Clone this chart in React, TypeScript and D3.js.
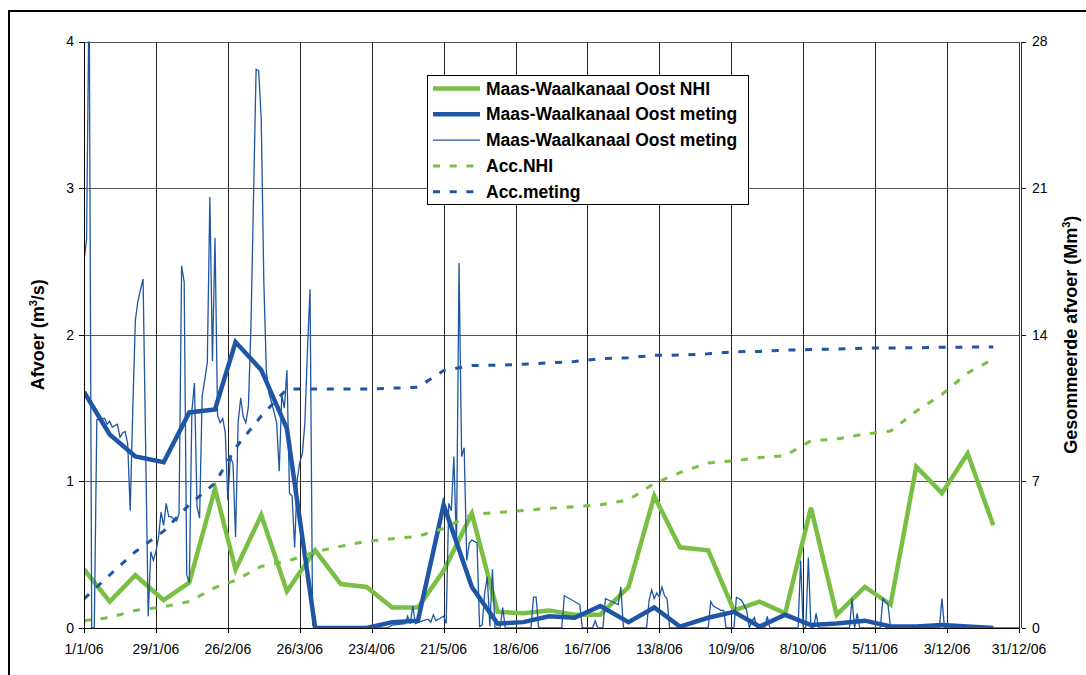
import React from "react";
import * as d3 from "d3";

// ---- data ----
const decadeDates = [
  "2006-01-01","2006-01-11","2006-01-21","2006-02-01","2006-02-11","2006-02-21",
  "2006-03-01","2006-03-11","2006-03-21","2006-04-01","2006-04-11","2006-04-21",
  "2006-05-01","2006-05-11","2006-05-21","2006-06-01","2006-06-11","2006-06-21",
  "2006-07-01","2006-07-11","2006-07-21","2006-08-01","2006-08-11","2006-08-21",
  "2006-09-01","2006-09-11","2006-09-21","2006-10-01","2006-10-11","2006-10-21",
  "2006-11-01","2006-11-11","2006-11-21","2006-12-01","2006-12-11","2006-12-21",
];
const nhiValues = [
  0.40, 0.18, 0.36, 0.19, 0.31, 0.95, 0.40, 0.77, 0.25, 0.53, 0.30, 0.28,
  0.14, 0.14, 0.39, 0.78, 0.11, 0.10, 0.12, 0.09, 0.09, 0.28, 0.90, 0.55,
  0.53, 0.12, 0.18, 0.10, 0.82, 0.09, 0.28, 0.16, 1.10, 0.92, 1.19, 0.70,
];
const metingDecade = [
  1.61, 1.32, 1.17, 1.13, 1.47, 1.49, 1.95, 1.76, 1.36, 0.00, 0.00, 0.00,
  0.04, 0.05, 0.84, 0.28, 0.03, 0.04, 0.08, 0.07, 0.15, 0.04, 0.14, 0.01,
  0.07, 0.11, 0.01, 0.09, 0.02, 0.03, 0.05, 0.01, 0.01, 0.02, 0.01, 0.00,
];
const accNhi = [
  0.35, 0.50, 0.84, 1.01, 1.27, 1.93, 2.28, 2.94, 3.18, 3.64, 3.90, 4.14,
  4.26, 4.38, 4.75, 5.43, 5.52, 5.61, 5.71, 5.79, 5.88, 6.12, 6.90, 7.42,
  7.88, 7.98, 8.14, 8.23, 8.94, 9.02, 9.26, 9.40, 10.35, 11.15, 12.18, 12.84,
];
const accMeting = [
  1.39, 2.53, 3.64, 4.62, 5.89, 6.92, 8.60, 10.12, 11.41, 11.41, 11.41, 11.41,
  11.45, 11.49, 12.29, 12.53, 12.55, 12.59, 12.66, 12.72, 12.86, 12.90, 13.02, 13.03,
  13.09, 13.19, 13.20, 13.27, 13.29, 13.32, 13.36, 13.37, 13.38, 13.40, 13.41, 13.41,
];
// daily measurement: day offset from 1 Jan 2006, value (m3/s)
const thinDays = [
  0, 1, 2, 3, 4, 5, 8, 9, 10, 11, 13, 14, 15, 16, 17, 18, 19, 20, 21, 22, 23, 25, 26, 27, 28, 29,
  30, 31, 32, 33, 34, 35, 36, 37, 38, 39, 40, 41, 42, 43, 44, 45, 46, 47, 48, 49, 50, 51, 52, 53,
  54, 55, 56, 57, 58, 59, 60, 61, 62, 63, 64, 65, 67, 68, 69, 70, 71, 72, 73, 74, 75, 76, 77, 78,
  79, 80, 81, 82, 83, 84, 85, 86, 87, 88, 89, 90, 118, 120, 125, 126, 127, 128, 129, 132, 134,
  135, 136, 137, 139, 140, 141, 142, 143, 144, 145, 146, 147, 148, 149, 150, 151, 153, 154, 155,
  156, 157, 158, 159, 160, 162, 163, 164, 174, 175, 176, 177, 186, 187, 193, 194, 198, 199, 200,
  202, 203, 208, 209, 210, 219, 220, 221, 222, 223, 224, 225, 226, 227, 228, 243, 244, 245, 248,
  249, 250, 253, 254, 256, 258, 259, 260, 261, 262, 265, 266, 267, 278, 279, 280, 281, 282, 283,
  284, 285, 286, 298, 299, 300, 301, 302, 310, 311, 312, 313, 314, 333, 334, 335, 364,
];
const thinValues = [
  2.50, 2.65, 4.40, 0.00, 0.00, 1.42, 1.43, 1.39, 1.41, 1.37, 1.39, 1.30, 1.33, 1.34, 1.26, 0.80, 1.50, 2.10, 2.23, 2.31, 2.38, 0.08, 0.52, 0.46, 0.52, 0.62,
  0.79, 0.70, 0.85, 0.76, 0.76, 0.74, 0.73, 0.78, 2.47, 2.36, 0.36, 0.31, 1.48, 1.67, 0.83, 0.75, 1.58, 1.69, 1.81, 2.94, 1.82, 2.66, 1.45, 1.40,
  1.43, 1.33, 0.87, 1.17, 1.12, 0.62, 1.40, 1.57, 1.44, 1.40, 1.51, 2.06, 3.81, 3.80, 3.47, 2.37, 1.75, 1.60, 1.54, 1.47, 1.40, 1.07, 1.59, 1.50,
  1.76, 0.92, 0.90, 0.55, 1.01, 1.13, 1.19, 1.40, 1.90, 2.31, 0.02, 0.00, 0.00, 0.02, 0.03, 0.08, 0.03, 0.15, 0.03, 0.05, 0.06,
  0.04, 0.09, 0.05, 0.07, 0.08, 0.03, 0.85, 0.80, 1.17, 0.55, 2.49, 1.17, 1.23, 0.46, 0.58, 0.60, 0.58, 0.01, 0.02,
  0.24, 0.35, 0.01, 0.40, 0.00, 0.00, 0.14, 0.00, 0.00, 0.21, 0.21, 0.00, 0.00, 0.22, 0.16, 0.00, 0.00, 0.05, 0.00,
  0.00, 0.20, 0.16, 0.28, 0.00, 0.00, 0.19, 0.26, 0.20, 0.24, 0.21, 0.28, 0.22, 0.20, 0.00, 0.00, 0.18, 0.15, 0.12,
  0.12, 0.00, 0.00, 0.21, 0.19, 0.12, 0.00, 0.05, 0.07, 0.00, 0.00, 0.08, 0.00, 0.00, 0.46, 0.00, 0.00, 0.48, 0.00,
  0.00, 0.10, 0.00, 0.00, 0.20, 0.00, 0.10, 0.00, 0.00, 0.20, 0.18, 0.16, 0.00, 0.00, 0.20, 0.00, 0.00,
];
const xTickDates = [
  "2006-01-01","2006-01-29","2006-02-26","2006-03-26","2006-04-23","2006-05-21","2006-06-18",
  "2006-07-16","2006-08-13","2006-09-10","2006-10-08","2006-11-05","2006-12-03","2006-12-31",
];
const leftTicks = [0, 1, 2, 3, 4];
const rightTicks = [0, 7, 14, 21, 28];
const legendLabels = [
  "Maas-Waalkanaal Oost NHI",
  "Maas-Waalkanaal Oost meting",
  "Maas-Waalkanaal Oost meting",
  "Acc.NHI",
  "Acc.meting",
];

// ---- styles ----
const GREEN = "#78BF43";
const BLUE = "#1F55A5";
const FONT = "'Liberation Sans', Arial, Helvetica, sans-serif";

const parse = (s: string) => new Date(s + "T00:00:00Z");
const start = parse("2006-01-01");
const fmt = (d: Date) => `${d.getUTCDate()}/${d.getUTCMonth() + 1}/${String(d.getUTCFullYear()).slice(2)}`;
const px = (v: number) => Math.round(v) + 0.5;

export default function App() {
  const W = 1086, H = 675;
  const L = 84, R = 1019, T = 41.5, B = 628;
  const x = d3.scaleUtc().domain([parse("2006-01-01"), parse("2006-12-31")]).range([L, R]);
  const yL = d3.scaleLinear().domain([0, 4]).range([B, T]);
  const yR = d3.scaleLinear().domain([0, 28]).range([B, T]);

  const dec = decadeDates.map(parse);
  const lineL = d3.line<[Date, number]>().x(d => x(d[0])).y(d => yL(d[1]));
  const lineR = d3.line<[Date, number]>().x(d => x(d[0])).y(d => yR(d[1]));

  const nhiPath = lineL(dec.map((d, i) => [d, nhiValues[i]]))!;
  const metPath = lineL(dec.map((d, i) => [d, metingDecade[i]]))!;
  const accNPath = lineR(dec.map((d, i) => [d, accNhi[i]]))!;
  const accMPath = lineR(dec.map((d, i) => [d, accMeting[i]]))!;
  const thinPath = lineL(thinDays.map((dd, i) => [d3.utcDay.offset(start, dd), thinValues[i]]))!;

  const ticks = xTickDates.map(parse);

  const legendX = 427.5, legendY = 75.5, legendW = 321, legendH = 129;
  const rowY = (i: number) => 88.5 + i * 25.8;
  const legendStyles = [
    { stroke: GREEN, w: 4.5, dash: undefined },
    { stroke: BLUE, w: 4.5, dash: undefined },
    { stroke: BLUE, w: 1.3, dash: undefined },
    { stroke: GREEN, w: 3, dash: "7 9.7" },
    { stroke: BLUE, w: 3, dash: "7 9.7" },
  ];

  return (
    <svg width={W} height={H} style={{ position: "absolute", left: 0, top: 0, background: "#fff" }} fontFamily={FONT}>
      <defs>
        <clipPath id="plotclip">
          <rect x={L} y={T} width={R - L} height={B - T} />
        </clipPath>
      </defs>
      {/* outer frame */}
      <rect x={9} y={11} width={1100} height={700} fill="none" stroke="#000" strokeWidth={2} />

      <g shapeRendering="crispEdges">
        {/* horizontal gridlines */}
        {leftTicks.filter(v => v > 0).map(v => (
          <line key={"h" + v} x1={L} x2={R} y1={px(yL(v))} y2={px(yL(v))} stroke="#555" strokeWidth={1} />
        ))}
        {/* vertical gridlines */}
        {ticks.slice(1, -1).map((d, i) => (
          <line key={"v" + i} x1={px(x(d))} x2={px(x(d))} y1={T} y2={B} stroke="#222" strokeWidth={1} />
        ))}
      </g>

      {/* series */}
      <g clipPath="url(#plotclip)" fill="none">
        <path d={nhiPath} stroke={GREEN} strokeWidth={4.5} />
        <path d={thinPath} stroke={BLUE} strokeWidth={1.3} />
        <path d={metPath} stroke={BLUE} strokeWidth={4.5} />
        <path d={accNPath} stroke={GREEN} strokeWidth={3} strokeDasharray="7 9.7" />
        <path d={accMPath} stroke={BLUE} strokeWidth={3} strokeDasharray="7 9.7" />
      </g>

      {/* axes */}
      <g shapeRendering="crispEdges">
        <line x1={L + 0.5} x2={L + 0.5} y1={T} y2={B} stroke="#000" strokeWidth={1} />
        <line x1={L} x2={R} y1={B + 0.5} y2={B + 0.5} stroke="#000" strokeWidth={1} />
        <line x1={R + 0.5} x2={R + 0.5} y1={T} y2={B} stroke="#333" strokeWidth={1} />
        <line x1={R + 2.5} x2={R + 2.5} y1={T} y2={B} stroke="#333" strokeWidth={1} />
        {leftTicks.map(v => (
          <line key={"ltl" + v} x1={L - 5} x2={L} y1={px(yL(v))} y2={px(yL(v))} stroke="#000" />
        ))}
        {rightTicks.map(v => (
          <line key={"rtl" + v} x1={R + 2.5} x2={R + 7} y1={px(yR(v))} y2={px(yR(v))} stroke="#000" />
        ))}
        {ticks.map((d, i) => (
          <line key={"xtl" + i} x1={px(x(d))} x2={px(x(d))} y1={B} y2={B + 5} stroke="#000" />
        ))}
      </g>
      {leftTicks.map(v => (
        <text key={"lt" + v} x={L - 10} y={yL(v)} dy="0.35em" textAnchor="end" fontSize={14} fill="#000">{v}</text>
      ))}
      {rightTicks.map(v => (
        <text key={"rt" + v} x={R + 13} y={yR(v)} dy="0.35em" textAnchor="start" fontSize={14} fill="#000">{v}</text>
      ))}
      {ticks.map((d, i) => (
        <text key={"xt" + i} x={x(d)} y={B + 26} textAnchor="middle" fontSize={14} fill="#000">{fmt(d)}</text>
      ))}

      {/* axis titles */}
      <text transform={`translate(44, ${(T + B) / 2}) rotate(-90)`} textAnchor="middle" fontSize={18} fontWeight="bold" fill="#000">
        Afvoer (m<tspan fontSize={11} dy={-7}>3</tspan><tspan dy={7}>/s)</tspan>
      </text>
      <text transform={`translate(1077, ${(T + B) / 2}) rotate(-90)`} textAnchor="middle" fontSize={18} fontWeight="bold" fill="#000">
        Gesommeerde afvoer (Mm<tspan fontSize={11} dy={-7}>3</tspan><tspan dy={7}>)</tspan>
      </text>

      {/* legend */}
      <rect x={legendX} y={legendY} width={legendW} height={legendH} fill="#fff" stroke="#000" strokeWidth={1} />
      {legendLabels.map((lab, i) => (
        <g key={"lg" + i}>
          <line x1={433} x2={480} y1={rowY(i)} y2={rowY(i)} stroke={legendStyles[i].stroke}
            strokeWidth={legendStyles[i].w} strokeDasharray={legendStyles[i].dash} />
          <text x={486} y={rowY(i)} dy="0.35em" fontSize={17.5} fontWeight="bold" fill="#000">{lab}</text>
        </g>
      ))}
    </svg>
  );
}
